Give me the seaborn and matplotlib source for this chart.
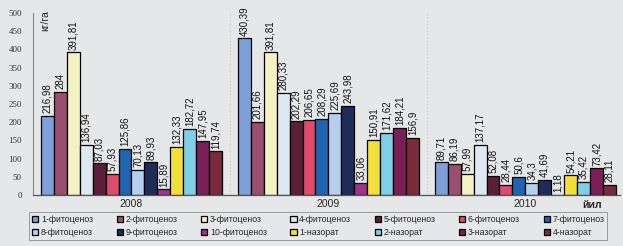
import matplotlib
matplotlib.use("Agg")
import matplotlib.pyplot as plt
import seaborn as sns
import pandas as pd
import numpy as np

years = ["2008", "2009", "2010"]
series = ["1-фитоценоз", "2-фитоценоз", "3-фитоценоз", "4-фитоценоз", "5-фитоценоз",
          "6-фитоценоз", "7-фитоценоз", "8-фитоценоз", "9-фитоценоз", "10-фитоценоз",
          "1-назорат", "2-назорат", "3-назорат", "4-назорат"]
v2008 = [216.98, 284, 391.81, 136.94, 87.03, 57.93, 125.86, 70.13, 89.93, 15.89,
         132.33, 182.72, 147.95, 119.74]
v2009 = [430.39, 201.66, 391.81, 280.33, 202.29, 206.65, 208.29, 225.69, 243.98, 33.06,
         150.91, 171.62, 184.21, 156.9]
v2010 = [89.71, 86.19, 57.99, 137.17, 52.08, 28.44, 50.6, 34.3, 41.69, 1.18,
         54.21, 35.42, 73.42, 28.11]
colors = ["#7f9fd8", "#9a4e70", "#f4f2c2", "#dde8f2", "#5c1f3a", "#e04a6c", "#1f64b0",
          "#b4d0ee", "#1f2c58", "#a0338a", "#f2e03a", "#7fcfe6", "#7a1f58", "#7a2a3a"]

rows = []
for y, vals in zip(years, [v2008, v2009, v2010]):
    for s, v in zip(series, vals):
        rows.append({"year": y, "series": s, "value": v})
df = pd.DataFrame(rows)

sns.set_theme(style="white")
bg = "#e5e7e9"
fig = plt.figure(figsize=(6.23, 2.46), dpi=100, facecolor=bg)
ax = fig.add_axes([0.053, 0.207, 0.942, 0.74], facecolor=bg)

sns.barplot(data=df, x="year", y="value", hue="series", hue_order=series,
            palette=colors, edgecolor="black", linewidth=0.9, width=0.92,
            saturation=1, ax=ax, legend=True)

for cont, s in zip(ax.containers, series):
    labels = [f"{v:g}".replace(".", ",") for v in df[df.series == s]["value"]]
    ax.bar_label(cont, labels=labels, rotation=90, padding=2, fontsize=7,
                 family="Liberation Sans", color="#111111")

ax.set_xlim(-0.5, 2.48)
ax.set_ylim(0, 500)
ax.set_yticks(np.arange(0, 501, 50))
ax.set_yticklabels([str(t) for t in range(0, 501, 50)], family="Liberation Serif",
                   fontsize=6.5, color="#333333")
ax.tick_params(axis="y", length=0, pad=8)
ax.set_xlabel("")
ax.set_ylabel("")
ax.tick_params(axis="x", length=0, pad=3)
for lab in ax.get_xticklabels():
    lab.set_family("Liberation Sans")
    lab.set_fontsize(7.5)
for sp in ["top", "right"]:
    ax.spines[sp].set_visible(False)
ax.spines["left"].set_color("#888888")
ax.spines["left"].set_linewidth(0.8)
ax.spines["bottom"].set_color("#555555")
ax.spines["bottom"].set_linewidth(0.9)
for xv in [0.5, 1.5]:
    ax.axvline(xv, color="#c8cacc", lw=0.6, ls=(0, (2, 2)), zorder=0)

ax.text(-0.44, 480, "кг/га", rotation=90, ha="center", va="center", fontsize=7.5,
        family="Liberation Sans")
fig.text(0.95, 0.165, "йил", fontsize=7.5, family="Liberation Sans", ha="center",
         va="center", weight="bold")

handles, labels = ax.get_legend_handles_labels()
ax.get_legend().remove()
order = []
for i in range(7):
    order += [i, i + 7]
leg = fig.legend([handles[i] for i in order], [labels[i] for i in order],
                 loc="lower left", bbox_to_anchor=(0.04, 0.005, 0.942, 0.138),
                 mode="expand", ncol=7, fontsize=6.3, frameon=True, fancybox=False,
                 handlelength=0.7, handleheight=0.7, handletextpad=0.3,
                 borderpad=0.35, labelspacing=0.45, columnspacing=0.5,
                 prop={"family": "Liberation Sans", "size": 6.3})
leg.get_frame().set_edgecolor("#777777")
leg.get_frame().set_facecolor(bg)
leg.get_frame().set_linewidth(0.6)

fig.savefig("out.png", dpi=100, facecolor=bg)
